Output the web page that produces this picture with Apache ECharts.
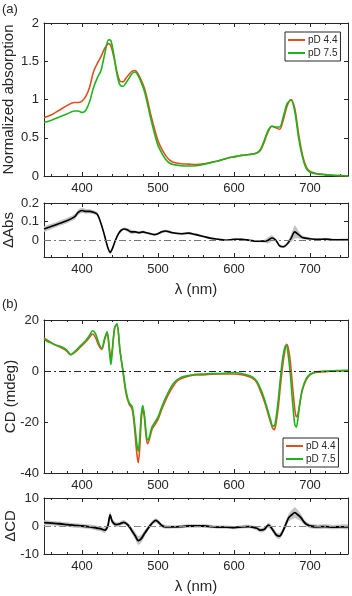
<!doctype html>
<html>
<head>
<meta charset="utf-8">
<title>Absorption and CD spectra</title>
<style>
  html, body { margin: 0; padding: 0; background: #fff; }
  #main { width: 352px; height: 596px; }
</style>
</head>
<body>
<div id="main"></div>
<script src="https://cdn.jsdelivr.net/npm/echarts@6/dist/echarts.min.js"></script>
<script>
// ---- data ----
var absWl = [350,360,370,380,390,395,400,405,410,415,420,425,430,435,438,442,446,450,454,458,462,466,470,474,478,482,486,490,495,500,505,510,515,520,530,540,550,560,570,580,590,600,610,620,630,635,640,645,650,655,660,665,670,675,680,685,690,695,700,710,720,730,740,750];
var abs44 = [0.76,0.80,0.86,0.92,0.96,0.96,0.98,1.04,1.16,1.36,1.47,1.56,1.67,1.73,1.70,1.55,1.36,1.24,1.23,1.28,1.33,1.37,1.38,1.33,1.25,1.15,1.00,0.82,0.63,0.46,0.35,0.27,0.21,0.18,0.16,0.155,0.15,0.16,0.18,0.20,0.23,0.25,0.27,0.28,0.30,0.34,0.45,0.58,0.65,0.63,0.61,0.74,0.92,1.00,0.88,0.55,0.28,0.12,0.06,0.03,0.02,0.01,0.005,0.0];
var abs75 = [0.70,0.73,0.77,0.81,0.85,0.85,0.83,0.86,0.97,1.15,1.28,1.38,1.60,1.78,1.77,1.58,1.33,1.19,1.17,1.22,1.28,1.34,1.36,1.31,1.22,1.11,0.95,0.77,0.57,0.40,0.30,0.22,0.17,0.15,0.135,0.13,0.135,0.15,0.175,0.20,0.23,0.25,0.27,0.28,0.30,0.35,0.47,0.60,0.65,0.64,0.64,0.78,0.95,0.99,0.84,0.50,0.25,0.10,0.05,0.025,0.015,0.01,0.005,0.0];

var dAbsWl = [350,360,370,380,390,395,400,405,410,415,420,425,430,434,437,440,444,448,452,456,460,465,470,475,480,485,490,495,500,505,510,515,520,530,540,550,560,570,580,590,600,610,620,630,640,645,650,655,660,665,670,675,680,685,690,700,710,720,730,740,750];
var dAbs = [0.06,0.075,0.09,0.105,0.125,0.15,0.16,0.155,0.155,0.15,0.14,0.09,0.02,-0.04,-0.065,-0.045,0.0,0.035,0.055,0.06,0.055,0.045,0.045,0.04,0.045,0.04,0.035,0.03,0.035,0.045,0.05,0.045,0.04,0.035,0.038,0.03,0.02,0.01,0.005,0.0,0.005,0.005,0.0,-0.005,-0.005,0.0,0.012,0.0,-0.03,-0.035,-0.02,0.01,0.045,0.03,0.015,0.008,0.005,0.006,0.003,0.003,0.003];
var dAbsErr = [0.014,0.014,0.014,0.014,0.014,0.014,0.014,0.013,0.012,0.011,0.01,0.009,0.009,0.01,0.012,0.01,0.008,0.007,0.007,0.007,0.01,0.012,0.007,0.007,0.007,0.006,0.006,0.006,0.006,0.007,0.008,0.007,0.006,0.006,0.006,0.006,0.005,0.005,0.005,0.005,0.005,0.005,0.005,0.006,0.008,0.018,0.015,0.008,0.008,0.008,0.01,0.02,0.035,0.02,0.01,0.006,0.005,0.005,0.005,0.005,0.005];

var cdWl = [350,355,360,365,370,375,380,385,390,395,400,405,410,414,418,422,426,430,433,436,438,440,443,446,450,454,458,462,466,469,472,474,476,478,480,482,484,486,488,492,496,500,505,510,515,520,525,530,540,550,560,570,580,590,600,610,620,625,630,635,640,645,648,651,653,655,658,661,664,667,669,671,674,677,680,682,684,687,690,695,700,705,710,720,730,740,750];
var cd44 = [13,12,11,10.2,9.5,8.8,7.8,6.3,7.2,8.5,10,11.5,13.2,14.5,13,10,8.5,12.5,15,9,4.5,9,17,18,8,-0.5,-9,-13,-15,-22,-32,-36,-30,-19,-15,-18,-24.5,-28.5,-27.5,-23,-21,-19,-15,-11.5,-8.5,-6,-4,-3,-2,-1.5,-1.5,-1.3,-1.2,-1.2,-1.2,-1.5,-2.3,-3,-4.5,-8,-12,-17,-20,-22.5,-23,-21,-15,-6,2,8,10.5,9.5,4,-6,-15,-18,-17,-12,-7.5,-3.5,-1.5,-0.8,-0.5,-0.3,0,0,0];
var cd75 = [12.5,11.5,11,10.2,9.8,9.2,8.2,6.5,7.5,9,10.5,12,14,15.8,14.5,11,9,13,15.5,8,2.5,8,17,18.5,8,0,-8,-12.5,-14,-20,-28,-31.5,-26,-17,-13.5,-17,-23,-27,-26.5,-22,-20,-18,-14,-10.5,-7.5,-5,-3.5,-2.5,-1.8,-1.3,-1.2,-1,-1,-0.8,-0.6,-1,-1.8,-2.5,-4,-7,-11,-16,-19,-21.5,-21.5,-19,-12,-3,5,9.5,10,7,-1,-12,-21,-22,-19,-12,-7,-3,-1.2,-0.6,-0.3,0,0.1,0.2,0.3];

var dCdWl = [350,360,370,380,390,400,410,420,425,430,434,437,440,445,450,455,460,465,470,474,478,482,486,490,494,497,500,505,510,520,530,540,550,560,570,580,590,600,610,620,630,635,640,645,648,652,656,660,664,668,672,676,680,684,688,692,696,700,710,720,730,740,750];
var dCd = [1.2,1.0,0.8,0.5,0.2,0,-0.3,-0.8,-1.0,-1.5,0,4,1.5,0.5,0.8,1.3,0.5,-1.4,-3.5,-5.2,-4.5,-2.8,-1.2,0.3,1.5,2,1.5,0.2,-0.3,-0.3,-0.2,0,0,0,-0.2,-0.4,-0.4,-0.6,-0.3,-0.2,-0.8,-1.5,-1.2,0.3,-0.2,-1.8,-3.3,-3.6,-2,0.5,3,4,4.8,4,3,1.5,0.5,0,-0.3,-0.2,-0.4,-0.3,-0.3];
var dCdErr = [0.8,0.8,0.8,0.8,0.8,0.8,0.8,0.9,0.9,1,1,1.2,1,0.8,0.8,0.8,0.8,1,1.3,1.6,1.4,1.1,0.9,0.8,0.8,0.8,0.8,0.7,0.7,0.6,0.6,0.6,0.6,0.6,0.6,0.6,0.6,0.6,0.6,0.6,0.7,0.8,0.8,0.9,0.9,0.9,1,1,1,1.1,1.4,1.7,1.9,1.7,1.3,1,0.8,0.8,0.8,0.8,0.8,0.8,0.8];

var seriesNames = ['pD 4.4', 'pD 7.5'];
var majorX = [400, 500, 600, 700];
var yTicks = [[0, 0.5, 1, 1.5, 2], [0, 0.1, 0.2], [-40, -20, 0, 20], [-10, 0, 10]];
var yRange = [[0, 2], [-0.09, 0.2], [-40, 20], [-10, 10]];
var yNames = ['Normalized absorption', '\u0394Abs', 'CD (mdeg)', '\u0394CD'];
var yNameGaps = [28, 28, 26, 26];

// ---- style ----
var FONT = 'Liberation Sans';
var INK = '#262626';
var ORANGE = '#e0501c';
var GREEN = '#1eb41e';

var minorX = [];
for (var w = 360; w < 750; w += 20) {
    if (w % 100 !== 0) minorX.push(w);
}

function zip(xs, ys) {
    return xs.map(function (x, i) { return [x, ys[i]]; });
}

var grids = [
    {left: 44, top: 23, width: 304, height: 153},
    {left: 44, top: 203, width: 304, height: 54},
    {left: 44, top: 320, width: 304, height: 153},
    {left: 44, top: 498, width: 304, height: 56}
];

var xAxes = [];
var yAxes = [];
grids.forEach(function (g, i) {
    var showName = (i === 1 || i === 3);
    var base = {gridIndex: i, type: 'value', min: 350, max: 750, splitLine: {show: false}};
    xAxes.push(Object.assign({}, base, {
        position: 'bottom',
        axisLine: {onZero: false, lineStyle: {color: INK, width: 1}},
        axisTick: {inside: true, length: 4, customValues: majorX, lineStyle: {color: INK}},
        axisLabel: {customValues: majorX, color: INK, fontSize: 13, fontFamily: FONT, margin: 6},
        name: showName ? '\u03bb (nm)' : '',
        nameLocation: 'middle', nameGap: 25, nameMoveOverlap: false,
        nameTextStyle: {color: INK, fontSize: 15, fontFamily: FONT}
    }));
    xAxes.push(Object.assign({}, base, {
        position: 'bottom',
        axisLine: {show: false, onZero: false},
        axisTick: {inside: true, length: 2, customValues: minorX, lineStyle: {color: INK}},
        axisLabel: {show: false}
    }));
    xAxes.push(Object.assign({}, base, {
        position: 'top',
        axisLine: {onZero: false, lineStyle: {color: INK, width: 1}},
        axisTick: {inside: true, length: 4, customValues: majorX, lineStyle: {color: INK}},
        axisLabel: {show: false}
    }));
    xAxes.push(Object.assign({}, base, {
        position: 'top',
        axisLine: {show: false, onZero: false},
        axisTick: {inside: true, length: 2, customValues: minorX, lineStyle: {color: INK}},
        axisLabel: {show: false}
    }));

    var ybase = {gridIndex: i, type: 'value', min: yRange[i][0], max: yRange[i][1], splitLine: {show: false}};
    yAxes.push(Object.assign({}, ybase, {
        position: 'left',
        axisLine: {show: true, onZero: false, lineStyle: {color: INK, width: 1}},
        axisTick: {show: true, inside: true, length: 4, customValues: yTicks[i], lineStyle: {color: INK}},
        axisLabel: {customValues: yTicks[i], color: INK, fontSize: 13, fontFamily: FONT, margin: 5},
        name: yNames[i], nameLocation: 'middle', nameRotate: 90,
        nameGap: yNameGaps[i], nameMoveOverlap: false,
        nameTextStyle: {color: INK, fontSize: 15, fontFamily: FONT}
    }));
    yAxes.push(Object.assign({}, ybase, {
        position: 'right',
        axisLine: {show: true, onZero: false, lineStyle: {color: INK, width: 1}},
        axisTick: {show: true, inside: true, length: 4, customValues: yTicks[i], lineStyle: {color: INK}},
        axisLabel: {show: false}
    }));
});

function zeroLine(color) {
    return {
        silent: true, symbol: ['none', 'none'],
        label: {show: false},
        lineStyle: {color: color, width: 1, type: [7, 3, 2, 3]},
        data: [{yAxis: 0}]
    };
}

function band(g, wl, mid, err) {
    return {
        type: 'custom', xAxisIndex: g * 4, yAxisIndex: g * 2, silent: true, z: 1, clip: true,
        data: [[550, 0]],
        renderItem: function (params, api) {
            var pts = [];
            for (var i = 0; i < wl.length; i++) pts.push(api.coord([wl[i], mid[i] + err[i]]));
            for (var j = wl.length - 1; j >= 0; j--) pts.push(api.coord([wl[j], mid[j] - err[j]]));
            return {type: 'polygon', shape: {points: pts, smooth: 0.2}, style: {fill: '#c4c4c4'}};
        }
    };
}

function line(g, name, wl, ys, color, width, extra) {
    return Object.assign({
        type: 'line', name: name, xAxisIndex: g * 4, yAxisIndex: g * 2,
        data: zip(wl, ys), showSymbol: false, smooth: 0.3, silent: true, z: 3,
        lineStyle: {color: color, width: width}, itemStyle: {color: color}
    }, extra || {});
}

function legendAt(left, top) {
    return {
        data: seriesNames, left: left, top: top, orient: 'vertical',
        icon: 'rect', itemWidth: 17, itemHeight: 2, itemGap: 3,
        padding: [3, 3, 3, 3], selectedMode: false,
        backgroundColor: '#fff', borderColor: INK, borderWidth: 1, borderRadius: 0,
        textStyle: {color: INK, fontSize: 10, fontFamily: FONT, padding: [0, 0, 0, -2]}
    };
}

var chart = echarts.init(document.getElementById('main'));

chart.setOption({
    animation: false,
    backgroundColor: '#fff',
    textStyle: {fontFamily: FONT},
    grid: grids.map(function (g) { return Object.assign({outerBoundsMode: 'none'}, g); }),
    xAxis: xAxes,
    yAxis: yAxes,
    legend: [legendAt(285, 32), legendAt(283, 438)],
    graphic: [
        {type: 'text', left: 2, top: 3, style: {text: '(a)', fontSize: 13, fontFamily: FONT, fill: INK}},
        {type: 'text', left: 2, top: 298, style: {text: '(b)', fontSize: 13, fontFamily: FONT, fill: INK}}
    ],
    series: [
        line(0, seriesNames[0], absWl, abs44, ORANGE, 1.6),
        line(0, seriesNames[1], absWl, abs75, GREEN, 1.6),

        band(1, dAbsWl, dAbs, dAbsErr),
        line(1, 'dAbs', dAbsWl, dAbs, '#000', 1.6, {markLine: zeroLine('#777')}),

        line(2, seriesNames[0], cdWl, cd44, ORANGE, 1.6, {markLine: zeroLine(INK)}),
        line(2, seriesNames[1], cdWl, cd75, GREEN, 1.6),

        band(3, dCdWl, dCd, dCdErr),
        line(3, 'dCD', dCdWl, dCd, '#000', 1.8, {markLine: zeroLine('#888')})
    ]
});

window.onresize = chart.resize;
</script>
</body>
</html>
